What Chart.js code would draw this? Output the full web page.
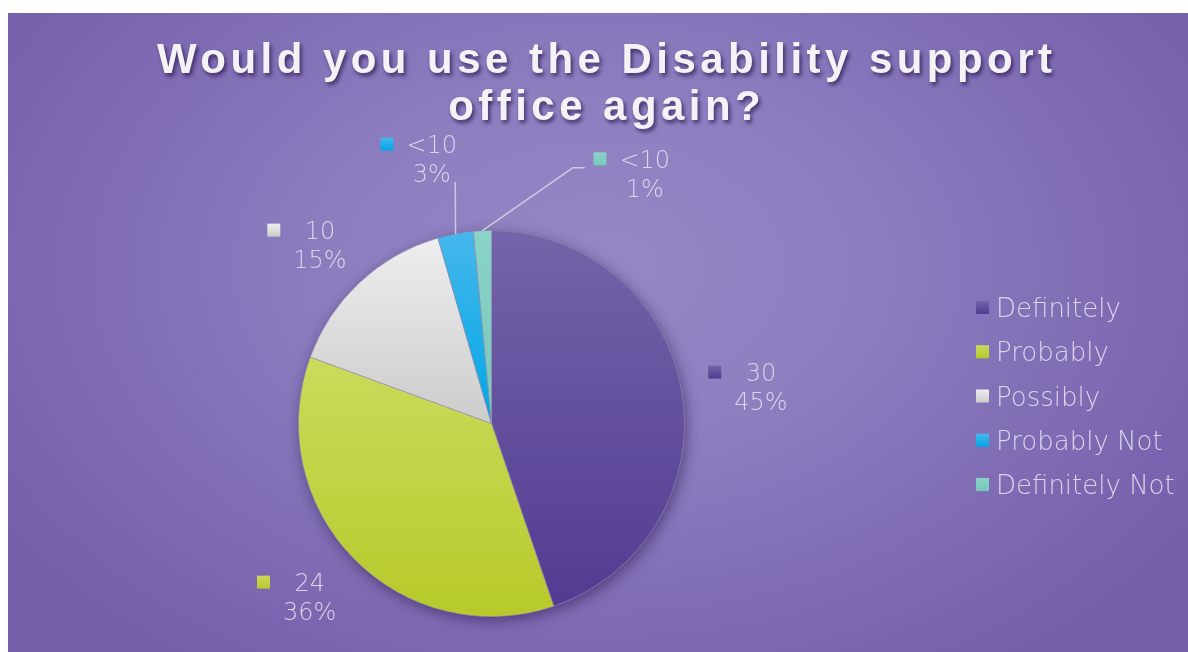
<!DOCTYPE html>
<html>
<head>
<meta charset="utf-8">
<script src="https://cdn.jsdelivr.net/npm/chart.js@4/dist/chart.umd.min.js"></script>
<style>
  html, body { margin: 0; padding: 0; background: #ffffff; }
  body { width: 1188px; height: 652px; position: relative; overflow: hidden; }
  #frame {
    position: absolute; left: 8px; top: 13px; right: 0; bottom: 0;
    background: radial-gradient(ellipse 62% 78% at 50% 40%, #9587c5 0%, #8d7ec0 35%, #7f6cb4 70%, #735eaa 100%);
  }
  #chart { position: absolute; left: 0; top: 0; }
</style>
</head>
<body>
<div id="frame"></div>
<canvas id="chart" width="1188" height="652"></canvas>
<script>
const titleLines = ['Would you use the Disability support', 'office again?'];
const categories = ['Definitely', 'Probably', 'Possibly', 'Probably Not', 'Definitely Not'];
const responses = [30, 24, 10, 2, 1];

// light top / dark bottom of each slice fill
const topColours = ['#7464a9', '#cbda5c', '#eeeeee', '#46b7eb', '#8ad3c7'];
const bottomColours = ['#523b92', '#b7ca2a', '#cccccc', '#00a7e6', '#76c8bb'];

// label placement: [degrees clockwise from 12 o'clock, distance in radii]
const labelPolar = [[82.2, 1.409], [226.4, 1.301], [316.2, 1.284], [347.3, 1.407], [31.5, 1.52]];
// leader line bends, relative to the label centre
const leaderPoints = [null, null, null, [[23.5, 23.5]], [[-72, -5.5], [-60, -5.5]]];

const total = responses.reduce((a, b) => a + b, 0);
const textColour = 'rgba(222, 218, 236, 0.95)';
const labelFont = '200 24px "DejaVu Sans"';
const legendFont = '200 26px "DejaVu Sans"';

function sliceGradient(chart, i) {
    const area = chart.chartArea;
    if (!area || i === undefined) return topColours[i || 0];
    const cx = (area.left + area.right) / 2;
    const cy = (area.top + area.bottom) / 2;
    const r = (Math.min(area.width, area.height) - 1) / 2;
    const before = responses.slice(0, i).reduce((a, b) => a + b, 0);
    const start = -Math.PI / 2 + 2 * Math.PI * before / total;
    const end = start + 2 * Math.PI * responses[i] / total;
    const ys = [cy, cy + r * Math.sin(start), cy + r * Math.sin(end)];
    if (start < Math.PI / 2 && end > Math.PI / 2) ys.push(cy + r);
    if (start < 1.5 * Math.PI && end > 1.5 * Math.PI) ys.push(cy - r);
    const g = chart.ctx.createLinearGradient(0, Math.min(...ys), 0, Math.max(...ys));
    g.addColorStop(0, topColours[i]);
    g.addColorStop(1, bottomColours[i]);
    return g;
}

function keySquare(ctx, x, y, i) {
    const g = ctx.createLinearGradient(0, y, 0, y + 13);
    g.addColorStop(0, topColours[i]);
    g.addColorStop(1, bottomColours[i]);
    ctx.fillStyle = g;
    ctx.fillRect(x, y, 13, 13);
}

const pieDecor = {
    id: 'pieDecor',
    beforeDatasetsDraw(chart) {
        // soft shadow under the whole pie
        const arc = chart.getDatasetMeta(0).data[0];
        const ctx = chart.ctx;
        ctx.save();
        ctx.shadowColor = 'rgba(40, 22, 75, 0.55)';
        ctx.shadowBlur = 14;
        ctx.shadowOffsetX = 2;
        ctx.shadowOffsetY = 4;
        ctx.fillStyle = '#6a5aa0';
        ctx.beginPath();
        ctx.arc(arc.x, arc.y, arc.outerRadius, 0, Math.PI * 2);
        ctx.fill();
        ctx.restore();
    },
    afterDatasetsDraw(chart) {
        const ctx = chart.ctx;
        const arcs = chart.getDatasetMeta(0).data;
        ctx.save();
        ctx.font = labelFont;
        const capH = 24 * 0.729;
        arcs.forEach((arc, i) => {
            const r = arc.outerRadius;
            const deg = labelPolar[i][0] * Math.PI / 180;
            const ax = arc.x + labelPolar[i][1] * r * Math.sin(deg);
            const ay = arc.y - labelPolar[i][1] * r * Math.cos(deg);

            if (leaderPoints[i]) {
                const mid = (arc.startAngle + arc.endAngle) / 2;
                ctx.strokeStyle = 'rgba(212, 207, 228, 0.9)';
                ctx.lineWidth = 1.5;
                ctx.beginPath();
                ctx.moveTo(arc.x + r * Math.cos(mid), arc.y + r * Math.sin(mid));
                leaderPoints[i].forEach(p => ctx.lineTo(ax + p[0], ay + p[1]));
                ctx.stroke();
            }

            const pct = Math.round(responses[i] / total * 100) + '%';
            const count = responses[i] < 10 ? '<10' : String(responses[i]);
            const lines = [count, pct];
            const w = Math.max(...lines.map(t => ctx.measureText(t).width));
            const mid1 = ay - 14.5;
            keySquare(ctx, ax - w / 2 - 26, mid1 - 6.5, i);
            ctx.fillStyle = textColour;
            ctx.textAlign = 'center';
            ctx.textBaseline = 'alphabetic';
            lines.forEach((t, k) => ctx.fillText(t, ax, mid1 + k * 29 + capH / 2));
        });
        ctx.restore();
    },
    afterDraw(chart) {
        const ctx = chart.ctx;
        ctx.save();

        // legend on the right
        ctx.font = legendFont;
        ctx.textAlign = 'left';
        ctx.textBaseline = 'alphabetic';
        categories.forEach((name, i) => {
            const cy = 307.5 + i * 44.25;
            keySquare(ctx, 976, cy - 6.5, i);
            ctx.fillStyle = textColour;
            ctx.fillText(name, 996, cy + 9.5);
        });

        // title, spread out to its full width
        ctx.font = 'bold 42px "Liberation Sans"';
        const first = titleLines[0];
        const plain = ctx.measureText(first).width;
        const spacing = Math.max(0, (895 - plain) / (first.length - 1));
        ctx.fillStyle = '#f4f2f6';
        ctx.shadowColor = 'rgba(45, 25, 80, 0.8)';
        ctx.shadowBlur = 4;
        ctx.shadowOffsetX = 2;
        ctx.shadowOffsetY = 3;
        titleLines.forEach((line, k) => {
            ctx.letterSpacing = '0px';
            const w = ctx.measureText(line).width + spacing * (line.length - 1);
            ctx.letterSpacing = spacing + 'px';
            ctx.fillText(line, 604.5 - w / 2, 73 + k * 47);
        });
        ctx.restore();
    }
};

new Chart(document.getElementById('chart'), {
    type: 'pie',
    data: {
        labels: categories,
        datasets: [{
            data: responses,
            backgroundColor: c => sliceGradient(c.chart, c.dataIndex),
            borderColor: 'rgba(150, 140, 175, 0.6)',
            borderWidth: 1
        }]
    },
    options: {
        responsive: false,
        animation: false,
        layout: { padding: { left: 298, right: 503, top: 230, bottom: 35 } },
        plugins: {
            legend: { display: false },
            tooltip: { enabled: false }
        }
    },
    plugins: [pieDecor]
});
</script>
</body>
</html>
